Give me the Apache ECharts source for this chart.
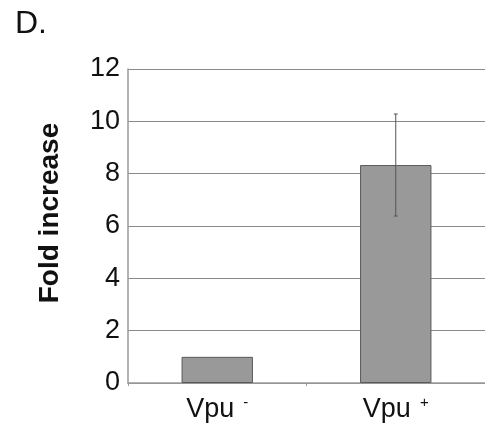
<!DOCTYPE html>
<html>
<head>
<meta charset="utf-8">
<script src="https://cdn.jsdelivr.net/npm/echarts@6/dist/echarts.min.js"></script>
<style>html,body{margin:0;padding:0;background:#fff;}#c{width:485px;height:433px;}</style>
</head>
<body>
<div id="c"></div>
<script>
const categories = ['Vpu -', 'Vpu +'];
const catBase = ['Vpu', 'Vpu'];
const catSup = ['-', '+'];
const values = [1.0, 8.33];
const errors = [0, 1.95];
const yTicks = [0, 2, 4, 6, 8, 10, 12];
const yTitle = 'Fold increase';

const chart = echarts.init(document.getElementById('c'), null, {renderer: 'canvas'});
const font = '"Liberation Sans", Arial, sans-serif';
chart.setOption({
  animation: false,
  backgroundColor: '#fff',
  title: {
    text: 'D.', left: 10, top: 3,
    textStyle: {fontFamily: font, fontSize: 32, fontWeight: 'normal', color: '#111'}
  },
  graphic: [{
    type: 'text',
    x: 50, y: 213,
    rotation: Math.PI / 2,
    style: {
      text: yTitle, fontFamily: font, fontSize: 28, fontWeight: 'bold', fill: '#111',
      align: 'center', verticalAlign: 'middle'
    }
  }],
  grid: {left: 128, top: 69, width: 359, height: 314, containLabel: false},
  xAxis: {
    type: 'category',
    data: categories,
    axisLine: {lineStyle: {color: '#9a9a9a', width: 1.5}},
    axisTick: {show: true, alignWithLabel: false, length: 3, lineStyle: {color: '#9a9a9a'}, interval: 0},
    axisLabel: {
      margin: 12,
      formatter: function (v, i) { return '{a|' + catBase[i] + '}{b|' + catSup[i] + '}'; },
      rich: {
        a: {fontFamily: font, fontSize: 27, color: '#111', lineHeight: 30},
        b: {fontFamily: font, fontSize: 15, color: '#111', verticalAlign: 'top', lineHeight: 30, padding: [0, 0, 8, 9]}
      }
    }
  },
  yAxis: {
    type: 'value',
    min: 0, max: 12, interval: 2,
    axisLine: {show: true, lineStyle: {color: '#9a9a9a', width: 1.5}},
    axisTick: {show: false},
    splitLine: {lineStyle: {color: '#8a8a8a', width: 1}},
    axisLabel: {
      margin: 8,
      fontFamily: font, fontSize: 27, color: '#111',
      formatter: function (v) { return yTicks.indexOf(v) >= 0 ? String(v) : ''; }
    }
  },
  series: [
    {
      type: 'bar',
      data: values,
      barWidth: '40%',
      itemStyle: {color: '#999999', borderColor: '#5a5a5a', borderWidth: 1}
    },
    {
      type: 'custom',
      data: values.map((v, i) => [i, v, errors[i]]),
      renderItem: function (params, api) {
        const i = api.value(0), v = api.value(1), e = api.value(2);
        if (!e) return null;
        const top = api.coord([i, v + e]);
        const bot = api.coord([i, v - e]);
        const style = {stroke: '#555', lineWidth: 1};
        return {
          type: 'group',
          children: [
            {type: 'line', shape: {x1: top[0], y1: top[1], x2: bot[0], y2: bot[1]}, style: style},
            {type: 'line', shape: {x1: top[0] - 2, y1: top[1], x2: top[0] + 2, y2: top[1]}, style: style},
            {type: 'line', shape: {x1: bot[0] - 2, y1: bot[1], x2: bot[0] + 2, y2: bot[1]}, style: style}
          ]
        };
      },
      z: 10
    }
  ]
});
</script>
</body>
</html>
